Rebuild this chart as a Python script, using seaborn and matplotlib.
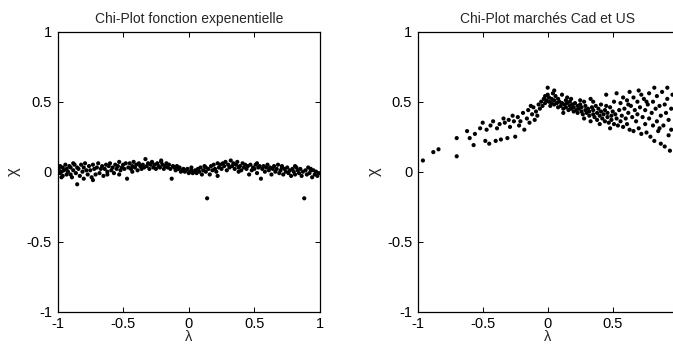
import matplotlib
matplotlib.use("Agg")
import matplotlib.pyplot as plt
import seaborn as sns
import pandas as pd

# ---- Panel 1 : Chi-Plot fonction expenentielle ----
exp_lambda = [
    -0.99, -0.98, -0.98, -0.97, -0.96, -0.96, -0.95, -0.94, -0.93, -0.93,
    -0.92, -0.91, -0.90, -0.90, -0.89, -0.88, -0.87, -0.86, -0.85, -0.85,
    -0.84, -0.83, -0.82, -0.81, -0.80, -0.80, -0.79, -0.78, -0.77, -0.76,
    -0.75, -0.74, -0.73, -0.72, -0.71, -0.70, -0.69, -0.68, -0.67, -0.66,
    -0.65, -0.64, -0.63, -0.62, -0.61, -0.60, -0.59, -0.58, -0.57, -0.56,
    -0.55, -0.54, -0.53, -0.52, -0.51, -0.50, -0.49, -0.48, -0.47, -0.46,
    -0.45, -0.44, -0.43, -0.42, -0.41, -0.40, -0.39, -0.38, -0.37, -0.36,
    -0.35, -0.34, -0.33, -0.32, -0.31, -0.30, -0.29, -0.28, -0.27, -0.26,
    -0.25, -0.24, -0.23, -0.22, -0.21, -0.20, -0.19, -0.18, -0.17, -0.16,
    -0.15, -0.14, -0.13, -0.12, -0.11, -0.10, -0.09, -0.08, -0.07, -0.06,
    -0.05, -0.04, -0.03, -0.02, -0.01, 0.00, 0.01, 0.02, 0.03, 0.04,
    0.05, 0.06, 0.07, 0.08, 0.09, 0.10, 0.11, 0.12, 0.13, 0.14,
    0.15, 0.16, 0.17, 0.18, 0.19, 0.20, 0.21, 0.22, 0.23, 0.24,
    0.25, 0.26, 0.27, 0.28, 0.29, 0.30, 0.31, 0.32, 0.33, 0.34,
    0.35, 0.36, 0.37, 0.38, 0.39, 0.40, 0.41, 0.42, 0.43, 0.44,
    0.45, 0.46, 0.47, 0.48, 0.49, 0.50, 0.51, 0.52, 0.53, 0.54,
    0.55, 0.56, 0.57, 0.58, 0.59, 0.60, 0.61, 0.62, 0.63, 0.64,
    0.65, 0.66, 0.67, 0.68, 0.69, 0.70, 0.71, 0.72, 0.73, 0.74,
    0.75, 0.76, 0.77, 0.78, 0.79, 0.80, 0.81, 0.82, 0.83, 0.84,
    0.85, 0.86, 0.87, 0.88, 0.89, 0.90, 0.91, 0.92, 0.93, 0.94,
    0.95, 0.96, 0.97, 0.98, 0.99, -0.97, -0.88, -0.62, -0.43, -0.21,
    0.02, 0.13, 0.22, 0.38, 0.52, 0.71, 0.81, 0.93, -0.73, -0.53,
]
exp_chi = [
    0.02, -0.01, 0.04, 0.00, 0.03, -0.03, 0.01, 0.05, -0.02, 0.02,
    0.00, 0.04, -0.02, 0.03, -0.04, 0.01, 0.05, -0.01, 0.03, -0.09,
    0.02, -0.03, 0.05, 0.00, 0.03, -0.05, 0.06, 0.01, -0.02, 0.04,
    0.01, -0.04, 0.05, 0.02, -0.02, 0.03, 0.06, -0.01, 0.02, 0.04,
    -0.03, 0.02, 0.05, 0.00, 0.04, 0.06, 0.01, 0.03, -0.01, 0.05,
    0.02, 0.04, 0.07, 0.01, 0.03, 0.05, 0.02, 0.06, -0.05, 0.03,
    0.06, 0.02, 0.04, 0.07, 0.03, 0.05, 0.01, 0.06, 0.04, 0.02,
    0.05, 0.03, 0.09, 0.04, 0.06, 0.02, 0.05, 0.07, 0.03, 0.05,
    0.02, 0.06, 0.04, 0.03, 0.07, 0.05, 0.02, 0.04, 0.06, 0.03,
    0.05, 0.02, -0.05, 0.04, 0.03, 0.01, 0.04, 0.02, 0.03, 0.00,
    0.01, 0.02, 0.00, 0.01, 0.02, -0.01, 0.00, 0.01, -0.01, 0.00,
    0.01, -0.01, 0.02, 0.00, 0.03, -0.02, 0.01, 0.04, 0.00, -0.19,
    0.02, -0.02, 0.04, 0.01, 0.05, 0.02, 0.00, 0.06, 0.03, 0.05,
    0.02, 0.06, 0.04, 0.07, 0.01, 0.05, 0.03, 0.08, 0.04, 0.06,
    0.02, 0.05, 0.07, 0.03, 0.04, 0.01, 0.06, 0.03, 0.05, 0.02,
    0.04, -0.02, 0.05, 0.01, 0.03, 0.02, 0.05, -0.01, 0.03, 0.04,
    -0.05, 0.02, 0.04, 0.00, 0.03, 0.05, 0.01, 0.03, -0.02, 0.02,
    0.04, 0.00, 0.02, 0.05, -0.01, 0.01, 0.03, -0.02, 0.02, 0.00,
    0.03, -0.01, 0.01, -0.03, 0.02, 0.00, -0.02, 0.03, 0.01, -0.01,
    0.02, -0.03, 0.00, -0.19, 0.01, -0.02, 0.03, -0.01, 0.02, -0.04,
    0.01, -0.02, 0.00, -0.03, -0.01, -0.04, 0.06, -0.02, 0.00, 0.08,
    0.03, 0.03, -0.03, 0.00, 0.06, 0.04, 0.04, 0.01, -0.06, -0.02,
]

# ---- Panel 2 : Chi-Plot marchés Cad et US ----
mkt_lambda = [
    -0.96, -0.88, -0.84, -0.70, -0.70, -0.62, -0.60, -0.57, -0.56, -0.52,
    -0.50, -0.48, -0.47, -0.45, -0.44, -0.42, -0.40, -0.39, -0.37, -0.36,
    -0.34, -0.33, -0.31, -0.30, -0.29, -0.27, -0.26, -0.25, -0.23, -0.22,
    -0.21, -0.19, -0.18, -0.16, -0.15, -0.14, -0.12, -0.11, -0.10, -0.09,
    -0.07, -0.06, -0.05, -0.04, -0.03, -0.02, -0.02, -0.01, 0.00, 0.00,
    0.01, 0.01, 0.02, 0.03, 0.03, 0.04, 0.05, 0.05, 0.06, 0.07,
    0.08, 0.08, 0.09, 0.10, 0.11, 0.11, 0.12, 0.13, 0.14, 0.14,
    0.15, 0.16, 0.17, 0.17, 0.18, 0.19, 0.20, 0.20, 0.21, 0.22,
    0.23, 0.23, 0.24, 0.25, 0.26, 0.26, 0.27, 0.28, 0.29, 0.29,
    0.30, 0.31, 0.32, 0.32, 0.33, 0.34, 0.35, 0.35, 0.36, 0.37,
    0.38, 0.38, 0.39, 0.40, 0.41, 0.41, 0.42, 0.43, 0.44, 0.44,
    0.45, 0.46, 0.46, 0.47, 0.48, 0.49, 0.49, 0.50, 0.51, 0.51,
    0.52, 0.53, 0.53, 0.54, 0.55, 0.56, 0.56, 0.57, 0.58, 0.58,
    0.59, 0.60, 0.61, 0.61, 0.62, 0.63, 0.63, 0.64, 0.65, 0.66,
    0.66, 0.67, 0.68, 0.69, 0.69, 0.70, 0.71, 0.72, 0.72, 0.73,
    0.74, 0.75, 0.75, 0.76, 0.77, 0.78, 0.78, 0.79, 0.80, 0.81,
    0.81, 0.82, 0.83, 0.84, 0.84, 0.85, 0.86, 0.87, 0.87, 0.88,
    0.89, 0.90, 0.90, 0.91, 0.92, 0.93, 0.93, 0.94, 0.95, 0.96,
    0.05, 0.15, 0.25, 0.35, 0.45, 0.12, 0.28, 0.40, 0.62, 0.82,
    0.92, 0.95, 0.70, 0.76, 0.86, -0.13, -0.08, 0.18, 0.33, 0.48,
]
mkt_chi = [
    0.08, 0.14, 0.16, 0.11, 0.24, 0.29, 0.24, 0.19, 0.27, 0.31,
    0.35, 0.22, 0.30, 0.20, 0.33, 0.36, 0.22, 0.31, 0.34, 0.23,
    0.38, 0.35, 0.24, 0.37, 0.32, 0.40, 0.36, 0.25, 0.39, 0.33,
    0.36, 0.42, 0.30, 0.38, 0.44, 0.35, 0.41, 0.46, 0.37, 0.43,
    0.48, 0.45, 0.50, 0.47, 0.52, 0.49, 0.54, 0.51, 0.60, 0.55,
    0.50, 0.53, 0.47, 0.52, 0.49, 0.56, 0.48, 0.51, 0.54, 0.49,
    0.46, 0.52, 0.50, 0.47, 0.55, 0.49, 0.45, 0.48, 0.51, 0.46,
    0.49, 0.44, 0.47, 0.50, 0.45, 0.48, 0.43, 0.46, 0.49, 0.44,
    0.47, 0.42, 0.45, 0.48, 0.43, 0.46, 0.41, 0.50, 0.44, 0.47,
    0.42, 0.45, 0.40, 0.43, 0.52, 0.46, 0.41, 0.44, 0.39, 0.47,
    0.42, 0.37, 0.45, 0.40, 0.43, 0.48, 0.38, 0.41, 0.36, 0.44,
    0.55, 0.39, 0.42, 0.35, 0.46, 0.40, 0.37, 0.43, 0.34, 0.50,
    0.41, 0.38, 0.56, 0.33, 0.44, 0.36, 0.49, 0.40, 0.32, 0.53,
    0.45, 0.38, 0.51, 0.34, 0.42, 0.57, 0.30, 0.47, 0.39, 0.53,
    0.29, 0.44, 0.36, 0.50, 0.41, 0.31, 0.46, 0.55, 0.27, 0.39,
    0.52, 0.34, 0.44, 0.28, 0.48, 0.38, 0.56, 0.25, 0.42, 0.33,
    0.50, 0.22, 0.45, 0.36, 0.54, 0.29, 0.47, 0.40, 0.20, 0.57,
    0.33, 0.48, 0.18, 0.42, 0.52, 0.26, 0.37, 0.15, 0.45, 0.55,
    0.58, 0.53, 0.51, 0.50, 0.47, 0.42, 0.38, 0.34, 0.48, 0.60,
    0.60, 0.30, 0.58, 0.50, 0.31, 0.47, 0.40, 0.52, 0.36, 0.31,
]

titles = ["Chi-Plot fonction expenentielle", "Chi-Plot marchés Cad et US"]
tick_values = [-1, -0.5, 0, 0.5, 1]
tick_labels = ["-1", "-0.5", "0", "0.5", "1"]
# the right panel is cut by the page edge: its last x label is not visible
tick_labels_cut = ["-1", "-0.5", "0", "0.5", ""]

sns.set_style("white")
plt.rcParams["font.family"] = ["Liberation Sans", "DejaVu Sans"]

fig = plt.figure(figsize=(6.73, 3.49), dpi=100)
W, H = 673, 349
ax1 = fig.add_axes([57.5 / W, 37.3 / H, 262.5 / W, 280 / H])
ax2 = fig.add_axes([417.7 / W, 37.3 / H, 260 / W, 280 / H])

df1 = pd.DataFrame({"lam": exp_lambda, "chi": exp_chi})
df2 = pd.DataFrame({"lam": mkt_lambda, "chi": mkt_chi})

for ax, df, title, xl in [(ax1, df1, titles[0], tick_labels),
                          (ax2, df2, titles[1], tick_labels_cut)]:
    sns.scatterplot(data=df, x="lam", y="chi", ax=ax, color="black",
                    s=9, marker="o", edgecolor="none", linewidth=0)
    ax.set_xlim(-1, 1)
    ax.set_ylim(-1, 1)
    ax.set_xticks(tick_values)
    ax.set_xticklabels(xl)
    ax.set_yticks(tick_values)
    ax.set_yticklabels(tick_labels)
    ax.tick_params(direction="in", length=3.5, width=0.7, top=True, right=True,
                   bottom=True, left=True, labelsize=10.5, colors="black")
    ax.tick_params(axis="x", pad=4)
    ax.tick_params(axis="y", pad=4)
    for sp in ax.spines.values():
        sp.set_visible(True)
        sp.set_color("black")
        sp.set_linewidth(0.9)
    ax.set_title(title, fontsize=10, pad=6)
    ax.set_xlabel("\u03bb", fontsize=10.5, labelpad=-1)
    ax.set_ylabel("\u03c7", fontsize=12, labelpad=4)
    ax.set_facecolor("white")

fig.savefig("out.png", dpi=100)
